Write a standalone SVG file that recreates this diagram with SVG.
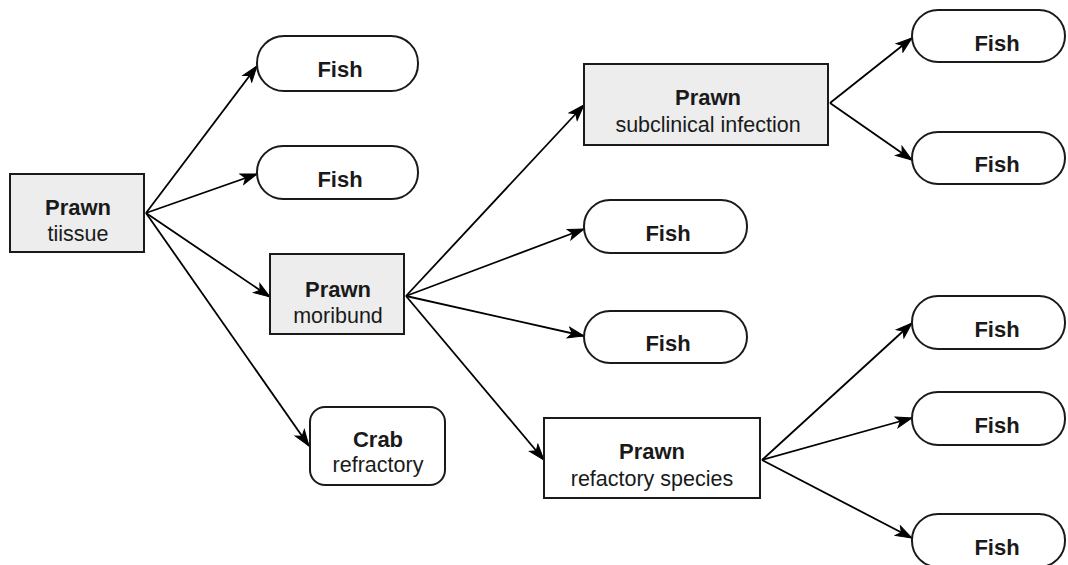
<svg xmlns="http://www.w3.org/2000/svg" width="1068" height="565" viewBox="0 0 1068 565">
<style>
.box{fill:#ededed;stroke:#1a1a1a;stroke-width:2}
.wbox{fill:#ffffff;stroke:#1a1a1a;stroke-width:2}
.b{font-family:"Liberation Sans",Arial,sans-serif;font-weight:bold;font-size:22px;fill:#1a1a1a;text-anchor:middle}
.r{font-family:"Liberation Sans",Arial,sans-serif;font-size:21.5px;fill:#1a1a1a;text-anchor:middle}
.c line{stroke:#000;stroke-width:1.8;marker-end:url(#ah)}
</style>
<defs>
<marker id="ah" markerUnits="userSpaceOnUse" markerWidth="20" markerHeight="14" refX="17" refY="7" orient="auto">
<path d="M1,1.5 L17,7 L1,12.5 L5,7 z" fill="#000" stroke="#000" stroke-width="1" stroke-linejoin="miter"/>
</marker>
</defs>
<g class="c" id="connectors">
<line x1="146" y1="213" x2="257" y2="66"/>
<line x1="146" y1="213" x2="257" y2="174"/>
<line x1="146" y1="213" x2="270" y2="297"/>
<line x1="146" y1="213" x2="309" y2="446"/>
<line x1="406" y1="296" x2="584" y2="105"/>
<line x1="406" y1="296" x2="584" y2="229"/>
<line x1="406" y1="296" x2="584" y2="336"/>
<line x1="406" y1="296" x2="544" y2="460"/>
<line x1="830" y1="103" x2="912" y2="38"/>
<line x1="830" y1="103" x2="912" y2="160"/>
<line x1="762" y1="460" x2="912" y2="323"/>
<line x1="762" y1="460" x2="912" y2="418"/>
<line x1="762" y1="460" x2="912" y2="538"/>
</g>
<g id="prawn-tissue">
<rect class="box" x="10" y="174" width="134" height="78"/>
<text class="b" x="78" y="215">Prawn</text>
<text class="r" x="78" y="241">tiissue</text>
</g>
<g id="fish-1">
<rect class="wbox" x="257" y="36" width="161" height="55" rx="27"/>
<text class="b" x="340" y="77">Fish</text>
</g>
<g id="fish-2">
<rect class="wbox" x="257" y="146" width="161" height="53" rx="26"/>
<text class="b" x="340" y="187">Fish</text>
</g>
<g id="prawn-moribund">
<rect class="box" x="270" y="254" width="134" height="80"/>
<text class="b" x="338" y="297">Prawn</text>
<text class="r" x="338" y="323">moribund</text>
</g>
<g id="crab">
<rect class="wbox" x="310" y="407" width="135" height="78" rx="15"/>
<text class="b" x="378" y="447">Crab</text>
<text class="r" x="378" y="472">refractory</text>
</g>
<g id="prawn-subclinical">
<rect class="box" x="584" y="64" width="244" height="81"/>
<text class="b" x="708" y="105">Prawn</text>
<text class="r" x="708" y="132">subclinical infection</text>
</g>
<g id="fish-3">
<rect class="wbox" x="584" y="200" width="163" height="53" rx="26"/>
<text class="b" x="668" y="241">Fish</text>
</g>
<g id="fish-4">
<rect class="wbox" x="584" y="311" width="163" height="52" rx="26"/>
<text class="b" x="668" y="351">Fish</text>
</g>
<g id="prawn-refactory">
<rect class="wbox" x="544" y="418" width="216" height="80"/>
<text class="b" x="652" y="459">Prawn</text>
<text class="r" x="652" y="486">refactory species</text>
</g>
<g id="fish-5">
<rect class="wbox" x="912" y="10" width="153" height="52" rx="26"/>
<text class="b" x="997" y="51">Fish</text>
</g>
<g id="fish-6">
<rect class="wbox" x="912" y="132" width="153" height="52" rx="26"/>
<text class="b" x="997" y="172">Fish</text>
</g>
<g id="fish-7">
<rect class="wbox" x="912" y="296" width="153" height="53" rx="26"/>
<text class="b" x="997" y="337">Fish</text>
</g>
<g id="fish-8">
<rect class="wbox" x="912" y="392" width="153" height="53" rx="26"/>
<text class="b" x="997" y="433">Fish</text>
</g>
<g id="fish-9">
<rect class="wbox" x="912" y="514" width="153" height="53" rx="26"/>
<text class="b" x="997" y="555">Fish</text>
</g>
</svg>
